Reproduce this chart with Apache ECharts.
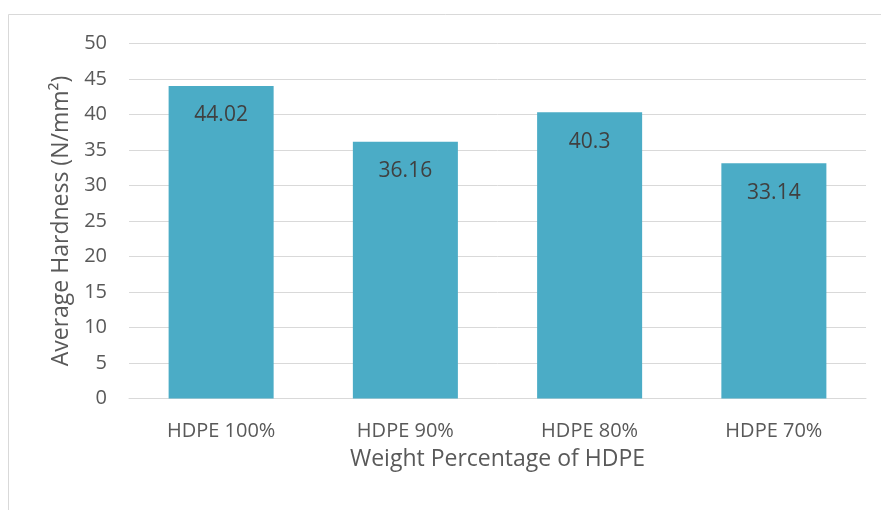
<!DOCTYPE html>
<html>
<head>
<meta charset="utf-8">
<script src="https://cdn.jsdelivr.net/npm/echarts@6/dist/echarts.min.js"></script>
<style>
  html, body { margin: 0; padding: 0; background: #ffffff; }
  #chart { width: 881px; height: 510px; }
</style>
</head>
<body>
<div id="chart"></div>
<script>
// Hardness measurements for HDPE blends
const categories = ['HDPE 100%', 'HDPE 90%', 'HDPE 80%', 'HDPE 70%'];
const hardness = [44.02, 36.16, 40.3, 33.14];
const yTicks = [0, 50, 5]; // min, max, step

const FONT = '"Open Sans", "Liberation Sans", sans-serif';
const chart = echarts.init(document.getElementById('chart'), null, { renderer: 'canvas' });

chart.setOption({
  animation: false,
  backgroundColor: '#ffffff',
  graphic: [{
    type: 'rect',
    shape: { x: 8.5, y: 14.5, width: 1000, height: 600 },
    style: { fill: 'none', stroke: '#d9d9d9', lineWidth: 1 },
    silent: true,
    z: -1
  }],
  grid: { left: 129, top: 43.5, width: 737, height: 355, containLabel: false },
  xAxis: {
    type: 'category',
    data: categories,
    name: 'Weight Percentage of HDPE',
    nameLocation: 'middle',
    nameGap: 49,
    nameTextStyle: { fontFamily: FONT, fontSize: 23, color: '#595959' },
    axisLine: { show: true, lineStyle: { color: '#d9d9d9', width: 1 } },
    axisTick: { show: false },
    axisLabel: { margin: 23, fontFamily: FONT, fontSize: 20, color: '#595959' }
  },
  yAxis: {
    type: 'value',
    min: yTicks[0],
    max: yTicks[1],
    interval: yTicks[2],
    name: 'Average Hardness (N/mm²)',
    nameLocation: 'middle',
    nameGap: 53,
    nameTextStyle: { fontFamily: FONT, fontSize: 23, color: '#595959' },
    axisLine: { show: false },
    axisTick: { show: false },
    axisLabel: { margin: 22, fontFamily: FONT, fontSize: 20, color: '#595959' },
    splitLine: { lineStyle: { color: '#d9d9d9', width: 1 } }
  },
  series: [{
    type: 'bar',
    data: hardness,
    barWidth: '57%',
    itemStyle: { color: '#4bacc6' },
    label: {
      show: true,
      position: 'insideTop',
      distance: 19,
      fontFamily: FONT,
      fontSize: 21,
      color: '#404040',
      formatter: p => String(p.value)
    }
  }]
});
</script>
</body>
</html>
